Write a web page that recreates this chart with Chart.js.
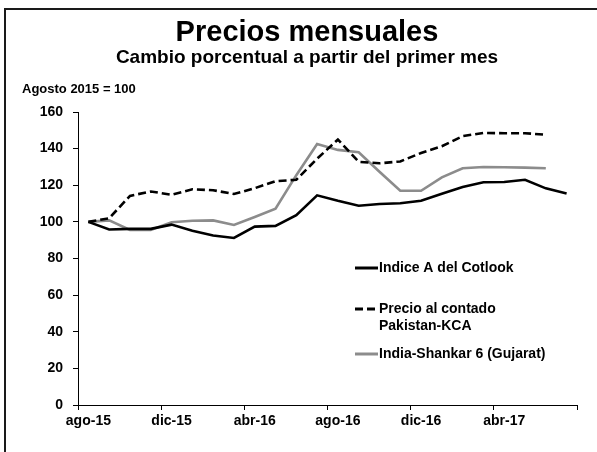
<!DOCTYPE html>
<html>
<head>
<meta charset="utf-8">
<script src="https://cdn.jsdelivr.net/npm/chart.js@4/dist/chart.umd.min.js"></script>
<style>
html,body{margin:0;padding:0;background:#fff;}
#wrap{position:relative;width:597px;height:452px;}
canvas{display:block;}
</style>
</head>
<body>
<div id="wrap"><canvas id="c" width="597" height="452"></canvas></div>
<script>
const months = ['ago-15','sep-15','oct-15','nov-15','dic-15','ene-16','feb-16','mar-16','abr-16','may-16','jun-16','jul-16',
                'ago-16','sep-16','oct-16','nov-16','dic-16','ene-17','feb-17','mar-17','abr-17','may-17','jun-17','jul-17'];
const cotlookA = [100, 95.8, 96.2, 96.2, 98.5, 95.2, 92.6, 91.2, 97.4, 97.8, 103.6, 114.5,
                  111.5, 108.8, 109.8, 110.2, 111.5, 115.3, 119, 121.6, 121.8, 123, 118.3, 115.5];
const pakistanKCA = [100, 102, 114.2, 116.6, 114.8, 117.8, 117.3, 115.2, 118.4, 122.2, 123, 134.5,
                     145, 132.8, 132, 133, 137.6, 141.3, 146.8, 148.6, 148.4, 148.4, 147.6, null];
const indiaShankar = [100, 100.8, 95.6, 95.6, 99.8, 100.6, 100.8, 98.3, 102.7, 107.2, 125.5, 142.5,
                      139.3, 138, 127.4, 117, 117, 124.3, 129.3, 130, 129.8, 129.6, 129.3, null];
const seriesNames = ['Indice A del Cotlook', 'Precio al contado\nPakistan-KCA', 'India-Shankar 6 (Gujarat)'];
const titleText = 'Precios mensuales';
const subtitleText = 'Cambio porcentual a partir del primer mes';
const unitText = 'Agosto 2015 = 100';

const FONT = '"Liberation Sans", Arial, sans-serif';

const decor = {
  id: 'decor',
  afterDraw(chart) {
    const ctx = chart.ctx;
    ctx.save();
    // frame
    ctx.strokeStyle = '#1a1a1a';
    ctx.lineWidth = 2;
    ctx.beginPath();
    ctx.moveTo(5, 452);
    ctx.lineTo(5, 9);
    ctx.lineTo(597, 9);
    ctx.stroke();
    // titles
    ctx.fillStyle = '#000';
    ctx.textAlign = 'center';
    ctx.textBaseline = 'alphabetic';
    ctx.font = 'bold 29px ' + FONT;
    ctx.fillText(titleText, 307, 41);
    ctx.font = 'bold 19px ' + FONT;
    ctx.fillText(subtitleText, 307, 63);
    ctx.textAlign = 'left';
    ctx.font = 'bold 13px ' + FONT;
    ctx.fillText(unitText, 22, 93);
    // legend
    const ds = chart.data.datasets;
    const rows = [268, 309, 354];
    ctx.font = 'bold 14px ' + FONT;
    ctx.textBaseline = 'middle';
    ds.forEach((d, i) => {
      const y = rows[i];
      ctx.beginPath();
      ctx.strokeStyle = d.borderColor;
      ctx.lineWidth = 3;
      ctx.setLineDash(d.borderDash || []);
      ctx.moveTo(355, y);
      ctx.lineTo(378, y);
      ctx.stroke();
      ctx.setLineDash([]);
      ctx.fillStyle = '#000';
      seriesNames[i].split('\n').forEach((t, k) => ctx.fillText(t, 379, y + k * 17));
    });
    ctx.restore();
  }
};

new Chart(document.getElementById('c'), {
  type: 'line',
  data: {
    labels: months,
    datasets: [
      { label: 'Indice A del Cotlook', data: cotlookA, borderColor: '#000000', borderWidth: 2.6 },
      { label: 'Precio al contado Pakistan-KCA', data: pakistanKCA, borderColor: '#000000', borderWidth: 2.6, borderDash: [8, 4] },
      { label: 'India-Shankar 6 (Gujarat)', data: indiaShankar, borderColor: '#8c8c8c', borderWidth: 2.6 }
    ]
  },
  options: {
    responsive: false,
    animation: false,
    devicePixelRatio: 1,
    elements: { point: { radius: 0 }, line: { tension: 0 } },
    layout: { padding: { left: 6, right: 20, top: 112, bottom: 0 } },
    plugins: { legend: { display: false }, tooltip: { enabled: false }, title: { display: false } },
    scales: {
      x: {
        type: 'category',
        offset: true,
        afterFit(s) { s.height = 47; },
        grid: {
          offset: true,
          drawOnChartArea: false,
          drawTicks: true,
          tickLength: 5,
          lineWidth: 1,
          color: (c) => (c.index === undefined || c.index % 4 === 0) ? '#000' : 'rgba(0,0,0,0)'
        },
        border: { display: true, color: '#000', width: 1 },
        ticks: {
          autoSkip: false,
          maxRotation: 0,
          padding: 3,
          color: '#000',
          font: { family: FONT, size: 14, weight: 'bold' },
          callback(v, i) { return i % 4 === 0 ? this.getLabelForValue(v) : ''; }
        }
      },
      y: {
        min: 0,
        max: 160,
        afterFit(s) { s.width = 72; },
        grid: { drawOnChartArea: false, drawTicks: true, tickLength: 5, color: '#000' },
        border: { display: true, color: '#000', width: 1 },
        ticks: {
          stepSize: 20,
          padding: 10,
          color: '#000',
          font: { family: FONT, size: 14, weight: 'bold' }
        }
      }
    }
  },
  plugins: [decor]
});
</script>
</body>
</html>
